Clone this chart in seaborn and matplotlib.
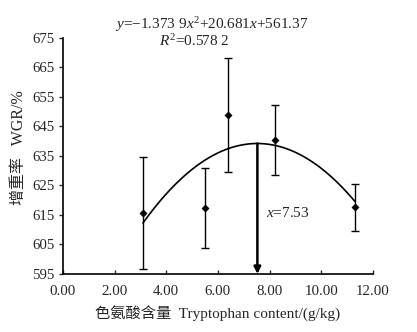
import numpy as np
import pandas as pd
import matplotlib
matplotlib.use("Agg")
import matplotlib.pyplot as plt
import seaborn as sns

# Tryptophan content (g/kg) and weight gain rate (%)
trp = [3.10, 5.50, 6.38, 8.20, 11.32]
wgr = [615.6, 617.4, 648.9, 640.4, 617.6]
sd = [19.0, 13.5, 19.3, 12.0, 7.9]

# Quadratic fit coefficients
a, b, c = -1.3739, 20.681, 561.37
x_opt = 7.53

xticks = [0, 2, 4, 6, 8, 10, 12]
yticks = [595, 605, 615, 625, 635, 645, 655, 665, 675]

sns.set_theme(style="ticks")
plt.rcParams["font.family"] = ["Liberation Serif", "Noto Sans CJK SC"]
plt.rcParams["mathtext.fontset"] = "custom"
plt.rcParams["mathtext.rm"] = "Liberation Serif"
plt.rcParams["mathtext.it"] = "Liberation Serif:italic"

fig = plt.figure(figsize=(4.17, 3.32), dpi=100)
ax = fig.add_axes([0.151, 0.175, 0.743, 0.711])

df = pd.DataFrame({"trp": trp, "wgr": wgr})
ax.errorbar(trp, wgr, yerr=sd, fmt="none", ecolor="black", elinewidth=1.0,
            capsize=3, capthick=1.0, zorder=2)
sns.scatterplot(data=df, x="trp", y="wgr", marker="D", s=14, color="black",
                edgecolor="black", ax=ax, zorder=3)

xs = np.linspace(trp[0], trp[-1], 200)
fit = pd.DataFrame({"x": xs, "y": a * xs ** 2 + b * xs + c})
sns.lineplot(data=fit, x="x", y="y", color="black", linewidth=1.2, ax=ax)

y_peak = a * x_opt ** 2 + b * x_opt + c
ax.annotate("", xy=(x_opt, 595), xytext=(x_opt, y_peak),
            arrowprops=dict(arrowstyle="-|>", color="black", lw=1.8,
                            mutation_scale=10, shrinkA=0, shrinkB=0))
ax.text(x_opt + 0.32, 615.6, r"$x$=7.53", fontsize=11, va="center", ha="left")

ax.set_xlim(0, 12)
ax.set_ylim(595, 675)
ax.set_xticks(xticks)
ax.set_xticklabels([f"{v:.2f}" for v in xticks])
ax.set_yticks(yticks)
ax.tick_params(axis="x", direction="in", length=3, width=1, labelsize=10.7, pad=8)
ax.tick_params(axis="y", direction="out", length=3, width=1, labelsize=10.7, pad=3)
for s in ["top", "right"]:
    ax.spines[s].set_visible(False)
for s in ["left", "bottom"]:
    ax.spines[s].set_linewidth(1.2)
    ax.spines[s].set_color("black")

ax.set_xlabel("色氨酸含量  Tryptophan content/(g/kg)", fontsize=11, labelpad=6)
ax.set_ylabel("增重率   WGR/%", fontsize=11.5)
ax.yaxis.set_label_coords(-0.115, 0.535)

fig.text(0.508, 0.925, r"$y$=−1.373 9$x^2$+20.681$x$+561.37", fontsize=11,
         ha="center", va="center")
fig.text(0.466, 0.875, r"$R^2$=0.578 2", fontsize=11, ha="center", va="center")

fig.savefig("out.png", dpi=100)
